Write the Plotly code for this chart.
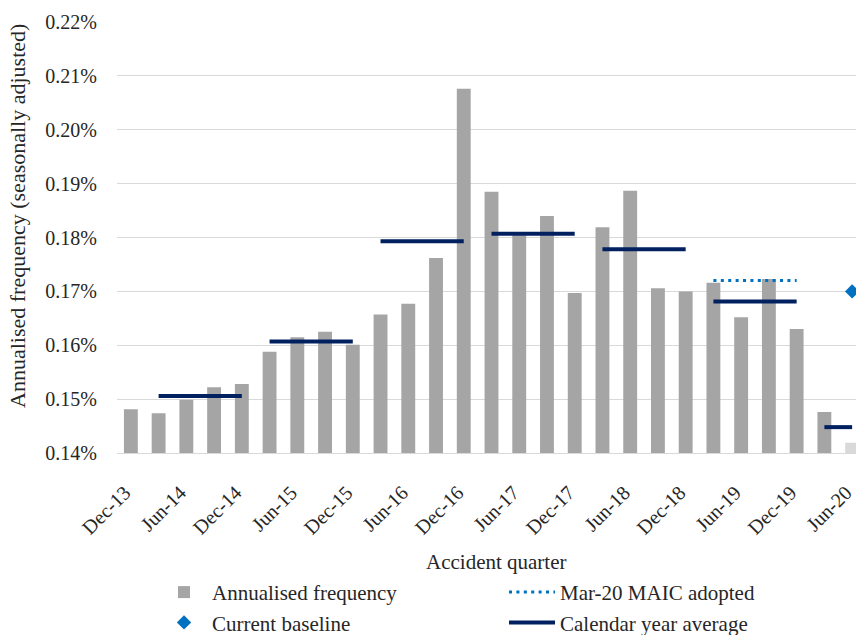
import plotly.graph_objects as go

quarters = ["Dec-13", "Mar-14", "Jun-14", "Sep-14", "Dec-14", "Mar-15", "Jun-15", "Sep-15",
            "Dec-15", "Mar-16", "Jun-16", "Sep-16", "Dec-16", "Mar-17", "Jun-17", "Sep-17",
            "Dec-17", "Mar-18", "Jun-18", "Sep-18", "Dec-18", "Mar-19", "Jun-19", "Sep-19",
            "Dec-19", "Mar-20", "Jun-20"]
freq = [0.1481, 0.1474, 0.1499, 0.1522, 0.1528, 0.1588, 0.1615, 0.1625,
        0.1601, 0.1657, 0.1677, 0.1762, 0.2076, 0.1885, 0.1804, 0.1840,
        0.1697, 0.1819, 0.1887, 0.1706, 0.1700, 0.1716, 0.1652, 0.1723,
        0.1630, 0.1476, 0.1419]
years = ["14", "15", "16", "17", "18", "19", "20"]
year_avg = [0.1506, 0.1607, 0.1793, 0.1807, 0.1778, 0.1681, 0.1448]
maic_quarters = ["Mar-19", "Jun-19", "Sep-19", "Dec-19"]
maic_value = 0.1720
baseline_quarter = ["Jun-20"]
baseline_value = [0.1700]
tick_labels = quarters[::2]

bar_colors = ["#A5A5A5"] * (len(quarters) - 1) + ["#D9D9D9"]

avg_x, avg_y = [], []
for yr, v in zip(years, year_avg):
    qs = [q for q in quarters if q.endswith("-" + yr)]
    avg_x += qs + [None]
    avg_y += [v] * len(qs) + [None]

FONT = "Liberation Serif, Times New Roman, serif"
TXT = "#262626"

fig = go.Figure()
fig.add_trace(go.Bar(x=quarters, y=freq, name="Annualised frequency",
                     marker=dict(color=bar_colors, line=dict(width=0))))
fig.add_trace(go.Scatter(x=maic_quarters, y=[maic_value] * len(maic_quarters),
                         mode="lines", name="Mar-20 MAIC adopted",
                         line=dict(color="#0070C0", width=3, dash="3px,4.4px")))
fig.add_trace(go.Scatter(x=baseline_quarter, y=baseline_value, mode="markers",
                         name="Current baseline", cliponaxis=False,
                         marker=dict(symbol="diamond", color="#0070C0", size=11)))
fig.add_trace(go.Scatter(x=avg_x, y=avg_y, mode="lines", name="Calendar year average",
                         line=dict(color="#002060", width=4), connectgaps=False))

fig.update_layout(
    width=856, height=635,
    margin=dict(l=117, r=0, t=22, b=182, autoexpand=False),
    paper_bgcolor="white", plot_bgcolor="white",
    font=dict(family=FONT, size=21, color=TXT),
    bargap=0.5,
    showlegend=True,
    legend=dict(orientation="h", x=0.0528, y=-0.276, xanchor="left", yanchor="top",
                entrywidth=287, itemwidth=46, font=dict(size=21, family=FONT, color=TXT),
                tracegroupgap=0, bgcolor="rgba(0,0,0,0)"),
    xaxis=dict(type="category", categoryorder="array", categoryarray=quarters,
               range=[-0.5, 26.14], tickmode="array", tickvals=tick_labels,
               ticktext=tick_labels, tickangle=-45,
               tickfont=dict(size=20, family=FONT, color=TXT),
               showgrid=False, showline=True, linecolor="#D9D9D9", linewidth=1,
               ticks="", ticklabelstandoff=19, ticklabelshift=-6),
    yaxis=dict(range=[0.14, 0.22], dtick=0.01, tickformat=".2f", ticksuffix="%",
               tickfont=dict(size=20, family=FONT, color=TXT),
               showgrid=True, gridcolor="#D9D9D9", gridwidth=1,
               zeroline=False, showline=False, ticks="", ticklabelstandoff=19),
    annotations=[
        dict(text="Annualised frequency (seasonally adjusted)", textangle=-90,
             xref="paper", yref="paper", x=-0.134, y=0.55, xanchor="center",
             yanchor="middle", showarrow=False, font=dict(size=22, family=FONT, color=TXT)),
        dict(text="Accident quarter", xref="paper", yref="paper",
             x=0.514, y=-0.254, xanchor="center", yanchor="middle", showarrow=False,
             font=dict(size=21, family=FONT, color=TXT)),
    ],
)

fig.write_html("out.html", post_script="document.body.style.margin='0';",
               config={"displayModeBar": False})
